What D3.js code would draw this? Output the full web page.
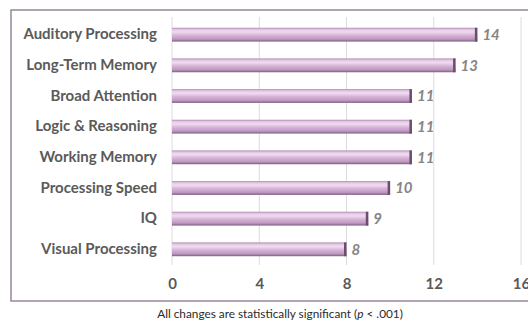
<!DOCTYPE html>
<html><head><meta charset="utf-8">
<script src="https://cdn.jsdelivr.net/npm/d3@7"></script>
<style>body{margin:0;background:#fff}svg{display:block}</style>
</head><body>
<svg id="c" width="528" height="322"></svg>
<script>
const categories = ["Auditory Processing","Long-Term Memory","Broad Attention","Logic & Reasoning","Working Memory","Processing Speed","IQ","Visual Processing"];
const values = [14,13,11,11,11,10,9,8];
const ticks = [0,4,8,12,16];
const footnote = ["All changes are statistically significant (", "p", " < .001)"];

const svg = d3.select("#c");
svg.append("rect").attr("width",528).attr("height",322).attr("fill","#fff");

const defs = svg.append("defs");
const g = defs.append("linearGradient").attr("id","bar").attr("x1",0).attr("y1",0).attr("x2",0).attr("y2",1);
[[0,"#a987ab"],[0.12,"#e3c6e4"],[0.3,"#f1dcf1"],[0.55,"#d6b3d7"],[0.82,"#bf98c1"],[1,"#7d5d80"]]
  .forEach(([o,c])=>g.append("stop").attr("offset",o).attr("stop-color",c));

const x = d3.scaleLinear().domain([0,16]).range([172,521]);
const y = d3.scaleBand().domain(categories).range([19.5,264.5]).paddingInner(0.55).paddingOuter(0.27);

const FONT = "Lato, 'Open Sans', sans-serif";

// frame
svg.append("rect").attr("x",11).attr("y",10).attr("width",540).attr("height",291)
  .attr("fill","none").attr("stroke","#958899").attr("stroke-width",1.5);

// gridlines
svg.append("g").selectAll("line").data(ticks).join("line")
  .attr("x1",d=>x(d)).attr("x2",d=>x(d)).attr("y1",17).attr("y2",265)
  .attr("stroke","#dcdcdc").attr("stroke-width",1);

// bars
const bars = svg.append("g");
bars.selectAll("rect.b").data(values).join("rect").attr("class","b")
  .attr("x",x(0)).attr("y",(d,i)=>y(categories[i]))
  .attr("width",d=>x(d)-x(0)).attr("height",y.bandwidth())
  .attr("fill","url(#bar)");
bars.selectAll("rect.cap").data(values).join("rect").attr("class","cap")
  .attr("x",d=>x(d)-2.5).attr("y",(d,i)=>y(categories[i]))
  .attr("width",2.5).attr("height",y.bandwidth())
  .attr("fill","#6b4d6e");

// value labels
svg.append("g").selectAll("text").data(values).join("text")
  .attr("x",d=>x(d)+5).attr("y",(d,i)=>y(categories[i])+y.bandwidth()/2)
  .attr("dy","0.36em")
  .attr("font-family",FONT).attr("font-size",15)
  .attr("font-style","italic").attr("font-weight","bold").attr("fill","#858585")
  .text(d=>d);

// category labels
const yAxis = d3.axisLeft(y).tickSize(0).tickPadding(0);
const ya = svg.append("g").attr("transform","translate(157,0)").call(yAxis);
ya.select(".domain").remove();
ya.selectAll("text").attr("font-family",FONT).attr("font-size",15)
  .attr("font-weight","bold").attr("fill","#5a5a5a");

// x axis
const xAxis = d3.axisBottom(x).tickValues(ticks).tickSize(0).tickPadding(0).tickFormat(d3.format("d"));
const xa = svg.append("g").attr("transform","translate(0,278)").call(xAxis);
xa.select(".domain").remove();
xa.selectAll("text").attr("font-family",FONT).attr("font-size",15)
  .attr("font-weight","bold").attr("fill","#5a5a5a");

// footnote
const ft = svg.append("text").attr("x",280).attr("y",318).attr("text-anchor","middle")
  .attr("font-family",FONT).attr("font-size",11.8).attr("fill","#2a2a2a");
ft.selectAll("tspan").data(footnote).join("tspan")
  .attr("font-style",(d,i)=>i===1?"italic":"normal").text(d=>d);
</script>
</body></html>
